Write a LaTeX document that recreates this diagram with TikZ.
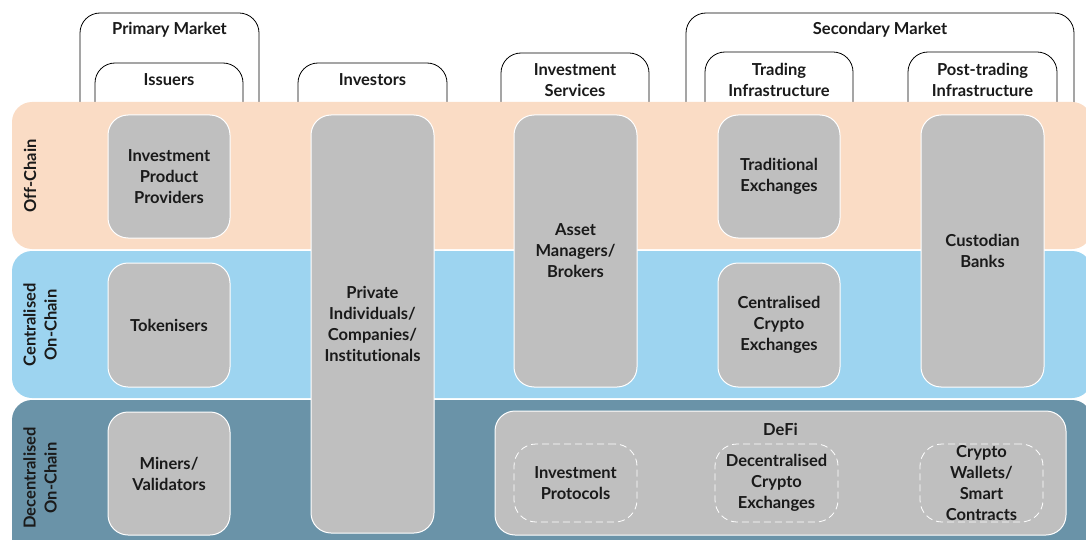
\documentclass[tikz,border=0pt]{standalone}
\usepackage{fontspec}
\setmainfont{Lato}[Ligatures=NoCommon]
\definecolor{peach}{HTML}{FADCC5}
\definecolor{lblue}{HTML}{9DD4F0}
\definecolor{steel}{HTML}{6A93A8}
\definecolor{boxgray}{HTML}{BFBFBF}
\definecolor{txt}{HTML}{1A1A1A}
\begin{document}
\begin{tikzpicture}[x=1pt,y=-1pt,
  every node/.style={font=\fontsize{16.5}{21}\selectfont\bfseries, text=txt, align=center},
  hdr/.style={draw=black, line width=0.8pt, fill=white, rounded corners=20pt},
  band/.style={rounded corners=20pt, inner sep=0pt},
  gbox/.style={fill=boxgray, draw=white, line width=1pt, rounded corners=20pt, inner sep=0pt},
  dbox/.style={draw=white, dashed, dash pattern=on 7pt off 4pt, line width=0.8pt, rounded corners=22pt, inner sep=0pt},
  blabel/.style={rotate=90}]
\useasboundingbox (0,0) rectangle (1086,540);
\clip (0,0) rectangle (1086,540);
% header frames
\draw[hdr] (80,130) -- (80,13) -- (259,13) -- (259,130);
\draw[hdr] (95,130) -- (95,63) -- (243,63) -- (243,130);
\draw[hdr] (298,130) -- (298,63) -- (447,63) -- (447,130);
\draw[hdr] (501,130) -- (501,53) -- (649,53) -- (649,130);
\draw[hdr] (686,130) -- (686,13) -- (1074,13) -- (1074,130);
\draw[hdr] (705,130) -- (705,52) -- (853,52) -- (853,130);
\draw[hdr] (908,130) -- (908,52) -- (1057,52) -- (1057,130);
\node (pm) at (169.5,30) {Primary Market};
\node (iss) at (169,80) {Issuers};
\node (inv) at (372.5,80) {Investors};
\node (is) at (575,80.5) {Investment\\Services};
\node (sm) at (880,30) {Secondary Market};
\node (ti) at (779,79.5) {Trading\\Infrastructure};
\node (pti) at (982.5,79.5) {Post-trading\\Infrastructure};
% bands
\node[band, fill=peach, minimum width=1080pt, minimum height=147pt] (offb) at (552,175.5) {};
\node[band, fill=lblue, minimum width=1080pt, minimum height=147pt] (cenb) at (552,324.5) {};
\node[band, fill=steel, minimum width=1080pt, minimum height=170pt] (decb) at (552,485) {};
\node[blabel] (offl) at (30,176) {Off-Chain};
\node[blabel] (cenl) at (40,325) {Centralised\\On-Chain};
\node[blabel] (decl) at (40,478) {Decentralised\\On-Chain};
% gray boxes
\node[gbox, minimum width=122pt, minimum height=123pt] (ipp) at (169,176.5) {Investment\\Product\\Providers};
\node[gbox, minimum width=122pt, minimum height=124pt] (tok) at (169,325) {Tokenisers};
\node[gbox, minimum width=122pt, minimum height=123pt] (min) at (169,473.5) {Miners/\\Validators};
\node[gbox, minimum width=123pt, minimum height=418pt] (priv) at (372.5,324) {Private\\Individuals/\\Companies/\\Institutionals};
\node[gbox, minimum width=123pt, minimum height=272pt] (am) at (575.5,251) {Asset\\Managers/\\Brokers};
\node[gbox, minimum width=122pt, minimum height=123pt] (te) at (779,176.5) {Traditional\\Exchanges};
\node[gbox, minimum width=122pt, minimum height=124pt] (cce) at (779,325) {Centralised\\Crypto\\Exchanges};
\node[gbox, minimum width=123pt, minimum height=272pt] (cb) at (982.5,251) {Custodian\\Banks};
\node[gbox, minimum width=571pt, minimum height=124pt] (defi) at (780.5,473) {};
\node (defil) at (780.5,429) {DeFi};
\node[dbox, minimum width=123pt, minimum height=78pt] (ip) at (575.5,483) {Investment\\Protocols};
\node[dbox, minimum width=123pt, minimum height=78pt] (dce) at (776.5,483) {Decentralised\\Crypto\\Exchanges};
\node[dbox, minimum width=123pt, minimum height=78pt] (cw) at (981.5,483) {Crypto\\Wallets/\\Smart\\Contracts};
\end{tikzpicture}
\end{document}
